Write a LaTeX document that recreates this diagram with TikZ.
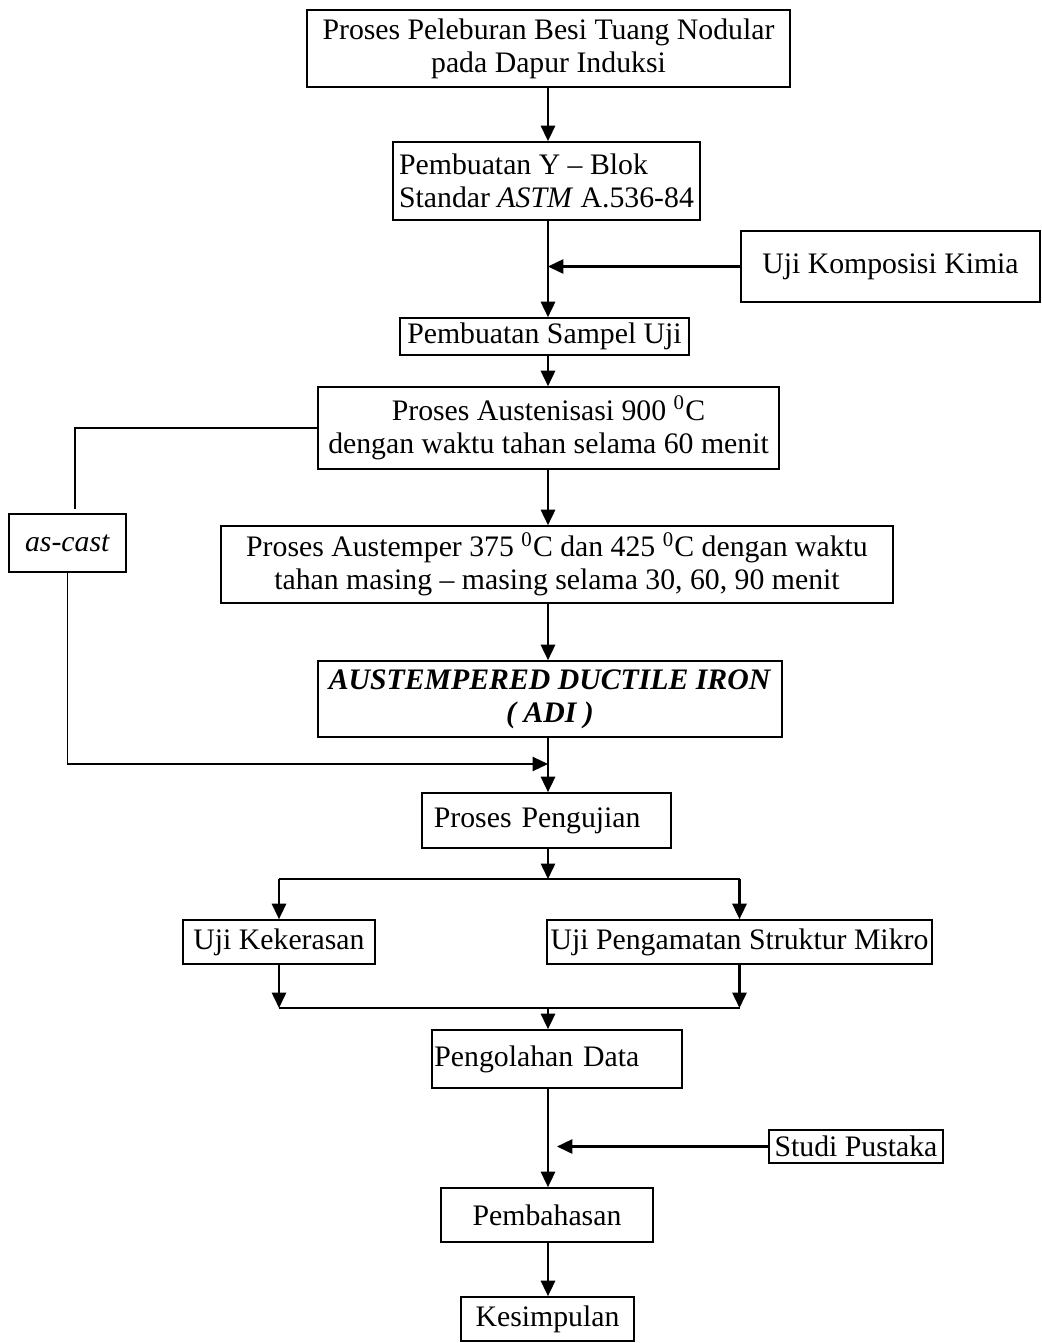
\documentclass[tikz,border=0pt]{standalone}
\usepackage{fontspec}
\setmainfont{Liberation Serif}
\usetikzlibrary{arrows.meta}

\tikzset{
    kotak/.style={draw, line width=0.7pt, inner sep=2pt, align=center},
    kiri/.style={kotak, align=left},
    panah/.style={line width=0.9pt, -{Triangle[length=6.5pt,width=6pt]}},
    garis/.style={line width=0.7pt}
}

\begin{document}
\begin{tikzpicture}[x=0.42pt, y=-0.42pt, font=\fontsize{12.5}{13.9}\selectfont] %Diagram alir proses pembuatan dan pengujian ADI
            \useasboundingbox (0,0) rectangle (1042,1343);

            \coordinate (sumbu) at (548,0);

            \node[kotak, minimum width=202.9pt, minimum height=32.3pt] (peleburan) at (548.5,48.5) {Proses Peleburan Besi Tuang Nodular\\pada Dapur Induksi};
            \node[kiri, minimum width=129pt, minimum height=32.8pt] (yblok) at (546.5,181) {Pembuatan Y -- Blok\\Standar \textit{ASTM} A.536-84};
            \node[kotak, minimum width=125.6pt, minimum height=29.8pt] (komposisi) at (890.5,266.5) {Uji Komposisi Kimia};
            \node[kotak, minimum width=121.4pt, minimum height=15.5pt] (sampel) at (544.5,336.5) {Pembuatan Sampel Uji};
            \node[kotak, minimum width=193.6pt, minimum height=34.4pt] (austenisasi) at (548.5,428) {Proses Austenisasi 900 \textsuperscript{0}C\\dengan waktu tahan selama 60 menit};
            \node[kotak, minimum width=49.1pt, minimum height=24.4pt] (ascast) at (67.5,543) {\textit{as-cast}};
            \node[kotak, minimum width=282.2pt, minimum height=32.3pt] (austemper) at (557,564.5) {Proses Austemper 375 \textsuperscript{0}C dan 425 \textsuperscript{0}C dengan waktu\\tahan masing -- masing selama 30, 60, 90 menit};
            \node[kotak, minimum width=194.9pt, minimum height=31.9pt] (adi) at (550,699) {\textbf{\textit{AUSTEMPERED DUCTILE IRON}}\\\textbf{\textit{( ADI )}}};
            \node[kiri, inner xsep=5pt, text width=94.6pt, minimum height=23.1pt] (pengujian) at (546.5,820.5) {Proses Pengujian};
            \node[kotak, minimum width=80.6pt, minimum height=18.5pt] (kekerasan) at (279,942) {Uji Kekerasan};
            \node[kotak, minimum width=161.7pt, minimum height=18.5pt, inner xsep=1pt] (mikro) at (739.5,942) {Uji Pengamatan Struktur Mikro};
            \node[kiri, inner xsep=1pt, text width=103pt, minimum height=24.4pt] (olahdata) at (557,1059) {Pengolahan Data};
            \node[kotak, minimum width=73.1pt, minimum height=13.9pt, inner sep=1pt] (pustaka) at (856,1146.5) {Studi Pustaka};
            \node[kotak, minimum width=89pt, minimum height=22.7pt] (pembahasan) at (547,1215) {Pembahasan};
            \node[kotak, minimum width=72.7pt, minimum height=18.5pt] (kesimpulan) at (547.5,1319) {Kesimpulan};

            \coordinate (ujung) at (75,509);
            \coordinate (gabung) at (548,764);
            \coordinate (cabang) at (548,879);
            \coordinate (satu) at (548,1008);
            \coordinate (tiba) at (557,1146.5);

            \draw[panah] (peleburan.south -| sumbu) -- (yblok.north -| sumbu);
            \draw[panah] (yblok.south -| sumbu) -- (sampel.north -| sumbu);
            \draw[panah] (komposisi.west) -- (komposisi.west -| sumbu);
            \draw[panah] (sampel.south -| sumbu) -- (austenisasi.north -| sumbu);
            \draw[panah] (austenisasi.south -| sumbu) -- (austemper.north -| sumbu);
            \draw[panah] (austemper.south -| sumbu) -- (adi.north -| sumbu);

            \draw[garis] (austenisasi.west) -| (ujung);
            \draw[panah, garis] (ascast.south) |- (gabung);
            \draw[panah] (adi.south -| sumbu) -- (pengujian.north -| sumbu);

            \draw[panah] (pengujian.south -| sumbu) -- (cabang);
            \draw[garis] (kekerasan.north |- cabang) -- (mikro.north |- cabang);
            \draw[panah] (kekerasan.north |- cabang) -- (kekerasan.north);
            \draw[panah] (mikro.north |- cabang) -- (mikro.north);

            \draw[panah] (kekerasan.south) -- (kekerasan.south |- satu);
            \draw[panah] (mikro.south) -- (mikro.south |- satu);
            \draw[garis] (kekerasan.south |- satu) -- (mikro.south |- satu);
            \draw[panah] (satu) -- (olahdata.north -| sumbu);

            \draw[panah] (olahdata.south -| sumbu) -- (pembahasan.north -| sumbu);
            \draw[panah] (pustaka.west) -- (tiba);
            \draw[panah] (pembahasan.south -| sumbu) -- (kesimpulan.north -| sumbu);
        \end{tikzpicture}
\end{document}
